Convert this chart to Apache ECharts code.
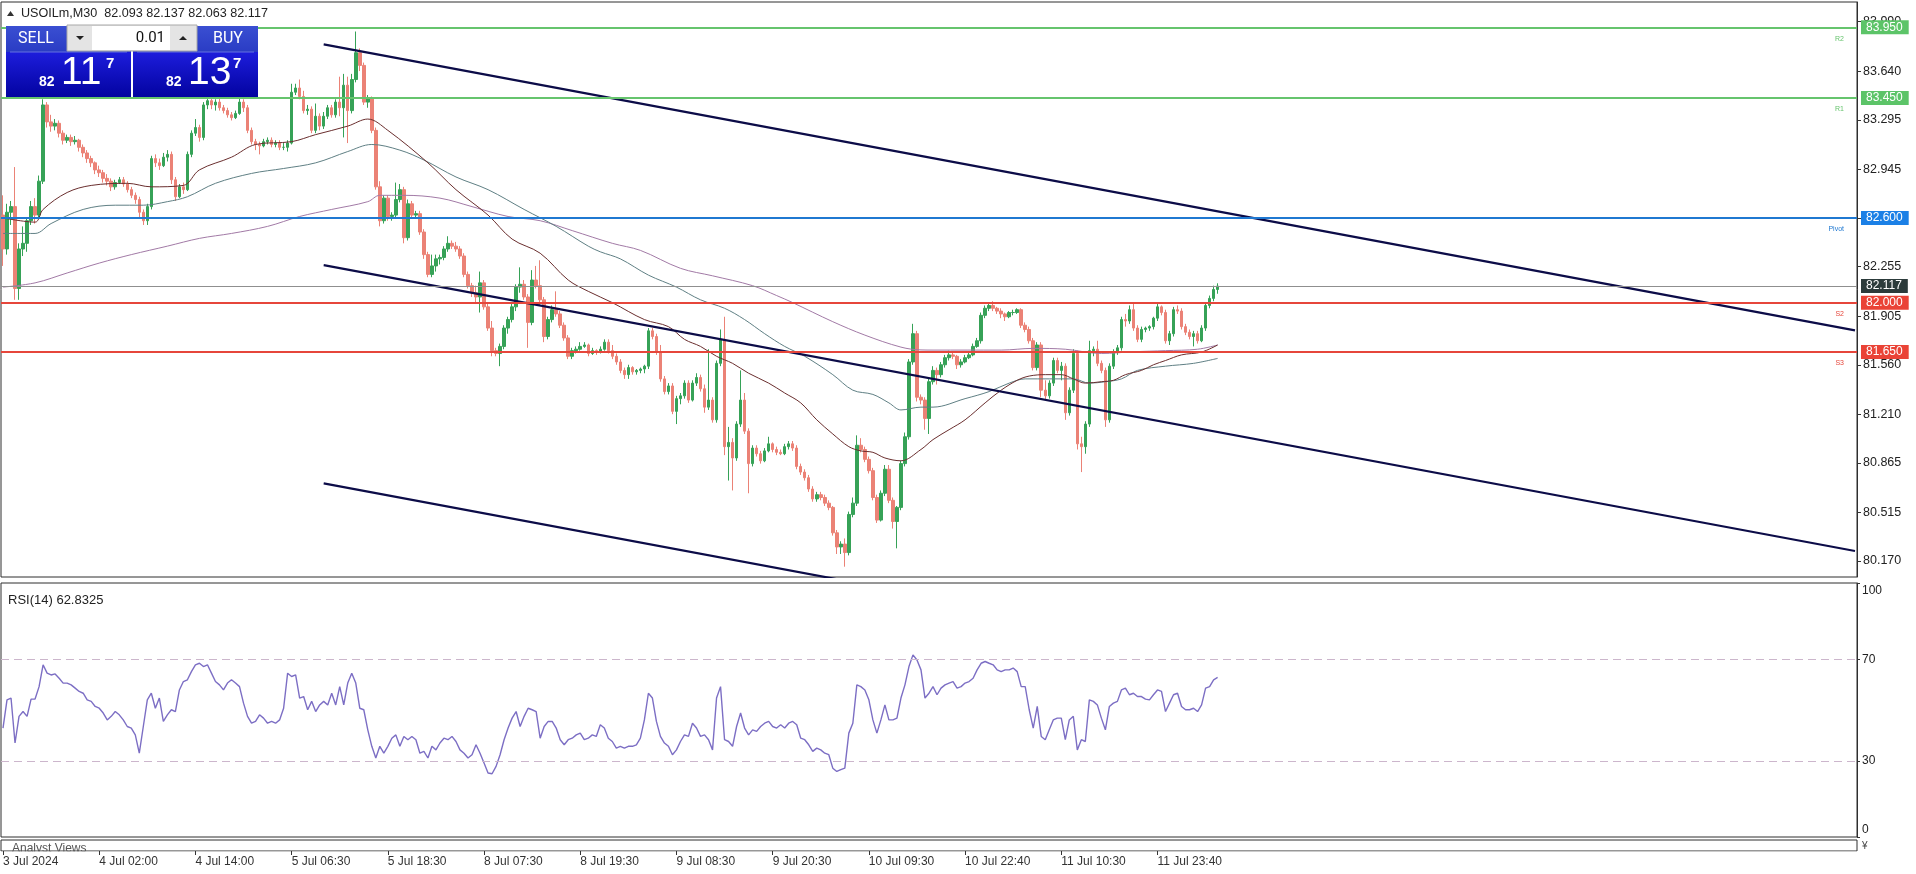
<!DOCTYPE html>
<html><head><meta charset="utf-8">
<script src="https://cdn.jsdelivr.net/npm/echarts@6/dist/echarts.min.js"></script>
<style>html,body{margin:0;padding:0;background:#fff;}#chart{width:1916px;height:874px;}</style>
</head><body><div id="chart"></div>
<script>
// ---------------- DATA ----------------
const symbolName = 'USOILm,M30';
const headerOHLC = ['82.093', '82.137', '82.063', '82.117'];
const sellPrice = ['82', '11', '7'];
const buyPrice = ['82', '13', '7'];
const lotSize = '0.01';
const rsiTitle = 'RSI(14) 62.8325';
const timeLabels = ['3 Jul 2024', '4 Jul 02:00', '4 Jul 14:00', '5 Jul 06:30', '5 Jul 18:30', '8 Jul 07:30', '8 Jul 19:30', '9 Jul 08:30', '9 Jul 20:30', '10 Jul 09:30', '10 Jul 22:40', '11 Jul 10:30', '11 Jul 23:40'];
const barsPerLabel = 24;
const barSlots = 463;
const priceTicks = [80.170, 80.515, 80.865, 81.210, 81.560, 81.905, 82.255, 82.600, 82.945, 83.295, 83.640, 83.990];
const rsiTicks = [0, 30, 70, 100];
const rsiLevels = [70, 30];
const levelValues = [83.950, 83.450, 82.600, 82.117, 82.000, 81.650];
const levelNames = ['R2', 'R1', 'Pivot', '', 'S2', 'S3'];
const channelBars = [80, 462];
const channelUpper = [83.829, 81.804];
const channelMiddle = [82.266, 80.241];
const channelLower = [80.720, 78.695];

// [open, high, low, close]
const ohlc = [
[82.62,82.76,82.26,82.38],[82.38,82.70,82.34,82.64],[82.64,82.72,82.55,82.68],[82.68,82.96,82.02,82.10],[82.10,82.42,82.02,82.38],
[82.38,82.54,82.33,82.42],[82.42,82.60,82.36,82.58],[82.58,82.72,82.55,82.68],[82.68,82.74,82.56,82.62],[82.62,82.90,82.60,82.86],
[82.86,83.44,82.84,83.40],[83.40,83.42,83.24,83.28],[83.28,83.33,83.21,83.25],[83.25,83.30,83.22,83.27],[83.27,83.29,83.17,83.20],
[83.20,83.22,83.12,83.15],[83.15,83.19,83.13,83.17],[83.17,83.19,83.11,83.14],[83.14,83.18,83.12,83.15],[83.15,83.16,83.07,83.10],
[83.10,83.12,83.03,83.06],[83.06,83.08,82.99,83.02],[83.02,83.04,82.96,82.99],[82.99,83.00,82.91,82.94],[82.94,82.97,82.89,82.92],
[82.92,82.94,82.85,82.88],[82.88,82.91,82.83,82.86],[82.86,82.88,82.79,82.82],[82.82,82.87,82.80,82.85],[82.85,82.89,82.84,82.87],
[82.87,82.89,82.82,82.84],[82.84,82.86,82.78,82.80],[82.80,82.82,82.74,82.76],[82.76,82.78,82.70,82.73],[82.73,82.75,82.60,82.64],
[82.64,82.66,82.55,82.58],[82.58,82.70,82.55,82.68],[82.68,83.04,82.66,83.02],[83.02,83.05,82.96,82.99],[82.99,83.02,82.94,82.97],
[82.97,83.06,82.96,83.03],[83.03,83.08,83.00,83.05],[83.05,83.07,82.84,82.87],[82.87,82.89,82.72,82.75],[82.75,82.84,82.74,82.82],
[82.82,82.85,82.77,82.80],[82.80,83.07,82.79,83.05],[83.05,83.22,83.03,83.20],[83.20,83.30,83.18,83.24],[83.24,83.26,83.14,83.17],
[83.17,83.42,83.15,83.40],[83.40,83.50,83.37,83.43],[83.43,83.46,83.37,83.40],[83.40,83.44,83.36,83.42],[83.42,83.45,83.36,83.38],
[83.38,83.40,83.34,83.36],[83.36,83.38,83.31,83.33],[83.33,83.35,83.29,83.31],[83.31,83.36,83.30,83.34],[83.34,83.45,83.33,83.42],
[83.42,83.44,83.35,83.38],[83.38,83.40,83.20,83.22],[83.22,83.24,83.12,83.14],[83.14,83.16,83.08,83.12],[83.12,83.14,83.05,83.11],
[83.11,83.16,83.10,83.14],[83.14,83.17,83.12,83.15],[83.15,83.17,83.10,83.12],[83.12,83.15,83.10,83.13],[83.13,83.15,83.08,83.10],
[83.10,83.13,83.08,83.10],[83.10,83.15,83.07,83.13],[83.13,83.55,83.12,83.49],[83.49,83.55,83.47,83.52],[83.52,83.58,83.44,83.46],
[83.46,83.50,83.34,83.36],[83.36,83.40,83.33,83.37],[83.37,83.39,83.20,83.22],[83.22,83.41,83.20,83.32],[83.32,83.34,83.22,83.25],
[83.25,83.35,83.23,83.32],[83.32,83.40,83.30,83.38],[83.38,83.40,83.31,83.33],[83.33,83.44,83.31,83.42],[83.42,83.60,83.32,83.38],
[83.38,83.62,83.17,83.54],[83.54,83.60,83.13,83.36],[83.36,83.62,83.34,83.58],[83.58,83.92,83.56,83.77],[83.77,83.80,83.64,83.68],
[83.68,83.70,83.40,83.42],[83.42,83.47,83.38,83.45],[83.45,83.46,83.20,83.22],[83.22,83.24,82.80,82.82],[82.82,82.86,82.54,82.58],
[82.58,82.76,82.56,82.74],[82.74,82.76,82.58,82.61],[82.61,82.64,82.58,82.62],[82.62,82.85,82.60,82.73],[82.73,82.84,82.71,82.80],
[82.80,82.82,82.42,82.46],[82.46,82.73,82.44,82.70],[82.70,82.72,82.60,82.62],[82.62,82.65,82.60,82.63],[82.63,82.65,82.48,82.50],
[82.50,82.52,82.31,82.34],[82.34,82.36,82.18,82.20],[82.20,82.34,82.18,82.26],[82.26,82.34,82.22,82.31],[82.31,82.34,82.27,82.32],
[82.32,82.40,82.30,82.38],[82.38,82.47,82.36,82.42],[82.42,82.44,82.38,82.40],[82.40,82.43,82.36,82.38],[82.38,82.40,82.31,82.33],
[82.33,82.35,82.18,82.20],[82.20,82.22,82.10,82.12],[82.12,82.14,82.04,82.07],[82.07,82.12,81.99,82.04],[82.04,82.22,81.93,82.14],
[82.14,82.16,81.95,81.97],[81.97,81.99,81.80,81.82],[81.82,81.87,81.62,81.66],[81.66,81.68,81.62,81.64],[81.64,81.71,81.55,81.69],
[81.69,81.84,81.67,81.82],[81.82,81.90,81.78,81.88],[81.88,81.99,81.86,81.97],[81.97,82.13,81.94,82.11],[82.11,82.25,82.07,82.13],
[82.13,82.16,82.02,82.04],[82.04,82.06,81.68,81.86],[81.86,82.23,81.84,82.16],[82.16,82.26,82.10,82.12],[82.12,82.30,81.98,82.02],
[82.02,82.04,81.72,81.76],[81.76,81.90,81.74,81.88],[81.88,81.98,81.86,81.95],[81.95,82.08,81.90,81.92],[81.92,81.94,81.82,81.84],
[81.84,81.86,81.73,81.75],[81.75,81.77,81.60,81.62],[81.62,81.68,81.60,81.66],[81.66,81.69,81.64,81.67],[81.67,81.72,81.66,81.69],
[81.69,81.72,81.68,81.70],[81.70,81.71,81.62,81.64],[81.64,81.68,81.63,81.66],[81.66,81.67,81.63,81.65],[81.65,81.69,81.64,81.67],
[81.67,81.74,81.66,81.72],[81.72,81.74,81.64,81.66],[81.66,81.70,81.60,81.62],[81.62,81.64,81.56,81.58],[81.58,81.60,81.50,81.52],
[81.52,81.54,81.46,81.49],[81.49,81.56,81.46,81.54],[81.54,81.55,81.49,81.51],[81.51,81.53,81.49,81.52],[81.52,81.54,81.50,81.53],
[81.53,81.56,81.50,81.55],[81.55,81.82,81.53,81.80],[81.80,81.82,81.74,81.76],[81.76,81.78,81.63,81.65],[81.65,81.70,81.44,81.46],
[81.46,81.48,81.35,81.37],[81.37,81.43,81.35,81.41],[81.41,81.43,81.21,81.23],[81.23,81.34,81.14,81.32],[81.32,81.36,81.28,81.34],
[81.34,81.45,81.32,81.43],[81.43,81.45,81.29,81.31],[81.31,81.45,81.30,81.43],[81.43,81.50,81.41,81.47],[81.47,81.49,81.37,81.39],
[81.39,81.42,81.22,81.26],[81.26,81.67,81.24,81.31],[81.31,81.33,81.15,81.17],[81.17,81.59,81.15,81.57],[81.57,81.81,81.55,81.74],
[81.74,81.90,80.92,80.98],[80.98,81.12,80.74,81.01],[81.01,81.04,80.67,80.90],[80.90,81.16,80.88,81.14],[81.14,81.52,81.12,81.31],
[81.31,81.36,81.07,81.09],[81.09,81.11,80.65,80.86],[80.86,80.99,80.84,80.97],[80.97,80.99,80.91,80.93],[80.93,80.95,80.86,80.88],
[80.88,80.97,80.87,80.95],[80.95,81.05,80.94,81.00],[81.00,81.01,80.94,80.96],[80.96,80.98,80.92,80.94],[80.94,80.96,80.92,80.93],
[80.93,81.00,80.92,80.98],[80.98,81.02,80.96,81.00],[81.00,81.02,80.95,80.97],[80.97,80.99,80.82,80.84],[80.84,80.86,80.78,80.80],
[80.80,80.82,80.74,80.76],[80.76,80.78,80.66,80.68],[80.68,80.70,80.59,80.61],[80.61,80.66,80.59,80.64],[80.64,80.66,80.60,80.62],
[80.62,80.64,80.56,80.58],[80.58,80.60,80.53,80.55],[80.55,80.56,80.35,80.37],[80.37,80.39,80.22,80.27],[80.27,80.31,80.22,80.29],
[80.29,80.33,80.13,80.23],[80.23,80.52,80.21,80.50],[80.50,80.62,80.48,80.58],[80.58,81.06,80.56,80.99],[80.99,81.04,80.94,80.96],
[80.96,80.98,80.87,80.89],[80.89,80.91,80.79,80.81],[80.81,80.83,80.60,80.62],[80.62,80.64,80.44,80.46],[80.46,80.67,80.45,80.65],
[80.65,80.85,80.63,80.82],[80.82,80.85,80.58,80.60],[80.60,80.62,80.40,80.45],[80.45,80.56,80.26,80.55],[80.55,80.88,80.53,80.86],
[80.86,81.08,80.84,81.05],[81.05,81.60,81.03,81.58],[81.58,81.85,81.56,81.78],[81.78,81.80,81.30,81.33],[81.33,81.35,81.28,81.31],
[81.31,81.33,81.10,81.18],[81.18,81.46,81.07,81.44],[81.44,81.55,81.42,81.52],[81.52,81.54,81.42,81.49],[81.49,81.58,81.47,81.56],
[81.56,81.63,81.54,81.61],[81.61,81.66,81.59,81.63],[81.63,81.65,81.60,81.62],[81.62,81.63,81.53,81.56],[81.56,81.60,81.54,81.58],
[81.58,81.63,81.57,81.61],[81.61,81.65,81.60,81.63],[81.63,81.71,81.62,81.69],[81.69,81.75,81.68,81.73],[81.73,81.93,81.71,81.91],
[81.91,81.98,81.89,81.96],[81.96,82.00,81.94,81.98],[81.98,82.01,81.94,81.96],[81.96,81.97,81.92,81.94],[81.94,81.96,81.89,81.92],
[81.92,81.93,81.87,81.90],[81.90,81.94,81.89,81.93],[81.93,81.95,81.91,81.93],[81.93,81.96,81.92,81.95],[81.95,81.96,81.82,81.84],
[81.84,81.86,81.79,81.81],[81.81,81.83,81.71,81.73],[81.73,81.75,81.52,81.54],[81.54,81.72,81.52,81.70],[81.70,81.72,81.33,81.38],
[81.38,81.45,81.31,81.34],[81.34,81.45,81.32,81.43],[81.43,81.61,81.41,81.59],[81.59,81.61,81.50,81.52],[81.52,81.58,81.45,81.55],
[81.55,81.57,81.17,81.22],[81.22,81.40,81.20,81.38],[81.38,81.67,81.36,81.64],[81.64,81.66,80.96,81.00],[81.00,81.05,80.80,80.98],
[80.98,81.16,80.93,81.14],[81.14,81.73,81.12,81.66],[81.66,81.69,81.62,81.67],[81.67,81.73,81.55,81.57],[81.57,81.59,81.50,81.52],
[81.52,81.54,81.12,81.17],[81.17,81.57,81.15,81.55],[81.55,81.67,81.53,81.65],[81.65,81.70,81.63,81.68],[81.68,81.90,81.66,81.88],
[81.88,81.92,81.83,81.87],[81.87,81.98,81.85,81.95],[81.95,81.99,81.80,81.82],[81.82,81.84,81.72,81.74],[81.74,81.83,81.72,81.81],
[81.81,81.83,81.79,81.82],[81.82,81.84,81.80,81.83],[81.83,81.90,81.81,81.89],[81.89,81.99,81.87,81.97],[81.97,81.98,81.91,81.93],
[81.93,81.95,81.71,81.73],[81.73,81.80,81.70,81.78],[81.78,81.97,81.76,81.95],[81.95,81.98,81.92,81.94],[81.94,81.96,81.81,81.83],
[81.83,81.85,81.77,81.79],[81.79,81.81,81.74,81.76],[81.76,81.80,81.69,81.78],[81.78,81.80,81.71,81.73],[81.73,81.84,81.72,81.82],
[81.82,82.00,81.80,81.98],[81.98,82.05,81.96,82.03],[82.03,82.12,82.01,82.093],[82.093,82.137,82.063,82.117]
];

const rsiValues = [
42.9,54.0,54.7,37.0,47.5,49.4,47.5,54.3,54.3,59.2,
67.8,64.5,63.8,64.2,62.5,60.6,60.6,59.9,58.6,57.3,
56.6,54.0,53.4,51.4,50.7,48.8,46.1,47.5,49.4,48.1,
46.1,43.5,42.9,40.2,33.0,43.5,54.0,56.6,50.7,54.7,
45.5,48.1,50.1,49.4,57.9,61.2,61.9,65.1,67.8,68.4,
67.1,67.8,64.5,61.2,59.9,57.9,60.6,61.9,60.6,59.2,
52.7,47.5,44.8,45.5,48.1,46.8,44.8,45.5,44.8,46.1,
50.7,64.5,63.2,63.8,54.7,55.3,50.1,53.4,49.4,52.0,
53.4,52.0,56.6,52.0,59.2,52.0,60.6,64.5,60.6,50.7,
50.1,42.2,35.7,31.1,35.7,33.0,35.7,38.9,40.2,35.7,
39.6,38.3,39.6,38.3,33.0,33.7,31.1,35.7,34.3,37.0,
38.9,38.3,39.6,37.6,34.3,33.0,31.1,32.4,36.3,33.0,
29.1,25.2,24.9,27.8,32.4,38.3,42.9,46.8,49.4,43.5,
47.5,50.7,50.1,49.4,38.9,43.5,45.5,45.5,42.9,38.3,
36.3,38.3,38.9,40.2,40.9,38.3,38.9,40.2,39.6,44.2,
42.9,38.9,37.6,35.0,35.7,35.0,35.7,35.7,36.3,38.9,
46.1,56.6,54.7,45.5,39.6,37.0,35.7,32.4,34.3,37.6,
40.2,39.6,44.8,42.9,39.6,40.2,38.3,34.3,54.7,59.2,
38.3,37.6,35.7,43.5,48.8,42.9,40.2,42.2,41.6,43.5,
44.8,45.5,43.5,42.9,44.2,42.9,44.8,45.5,44.2,38.9,
38.3,36.3,33.7,35.0,34.3,33.0,32.4,27.1,25.8,26.5,
27.1,40.9,44.8,59.9,59.2,57.9,54.0,46.1,40.9,46.1,
52.0,46.1,46.1,46.8,54.7,59.9,67.1,71.7,69.7,65.8,
54.7,56.6,59.2,56.0,58.6,59.9,60.6,61.2,58.6,59.2,
60.6,61.2,62.5,65.8,68.4,69.1,68.4,67.8,65.8,65.1,
65.8,65.8,66.5,65.1,59.2,59.2,50.1,42.9,51.4,39.6,
38.3,42.2,46.1,46.8,46.8,38.3,46.1,47.5,34.3,38.3,
37.6,54.0,53.4,52.0,46.8,42.2,51.4,52.7,53.4,57.9,
58.6,56.0,56.6,55.3,55.3,54.3,54.0,56.0,57.9,57.3,
49.4,52.7,56.0,56.6,51.4,50.1,50.1,50.7,49.4,52.0,
58.6,59.2,61.9,62.83
];

// moving averages read at selected bars: [bar, value]
const maFast = [[0,82.60],[8,82.57],[10,82.66],[16,82.78],[22,82.83],[31,82.845],[37,82.82],[45,82.83],[49,82.94],[57,83.03],[63,83.12],[72,83.14],[78,83.19],[86,83.25],[91,83.30],[96,83.22],[106,82.99],[113,82.80],[121,82.62],[127,82.45],[134,82.35],[141,82.16],[146,82.08],[152,82.00],[160,81.88],[166,81.83],[170,81.74],[174,81.69],[178,81.62],[182,81.57],[186,81.50],[191,81.43],[195,81.36],[199,81.29],[203,81.17],[207,81.07],[211,80.98],[214,80.95],[217,80.94],[220,80.90],[224,80.88],[229,80.96],[232,81.03],[236,81.10],[240,81.17],[245,81.29],[249,81.38],[253,81.45],[256,81.48],[260,81.49],[264,81.49],[267,81.46],[270,81.43],[274,81.44],[277,81.45],[280,81.49],[284,81.52],[287,81.56],[290,81.59],[294,81.63],[299,81.65],[303,81.70]];
const maMid = [[0,82.49],[8,82.49],[12,82.56],[20,82.66],[28,82.69],[35,82.69],[41,82.715],[46,82.75],[53,82.845],[62,82.915],[70,82.95],[78,82.99],[86,83.07],[92,83.12],[99,83.08],[105,83.01],[113,82.89],[121,82.80],[130,82.66],[138,82.54],[146,82.40],[149,82.36],[154,82.31],[161,82.195],[168,82.11],[174,82.02],[180,81.96],[185,81.88],[190,81.78],[195,81.69],[200,81.62],[207,81.49],[212,81.38],[217,81.35],[221,81.29],[224,81.24],[229,81.26],[232,81.26],[240,81.32],[246,81.37],[251,81.43],[255,81.46],[261,81.46],[267,81.46],[271,81.43],[275,81.44],[279,81.46],[283,81.52],[290,81.55],[297,81.57],[303,81.605]];
const maSlow = [[0,82.11],[8,82.14],[16,82.21],[24,82.28],[32,82.34],[41,82.40],[49,82.455],[57,82.49],[66,82.54],[74,82.61],[82,82.66],[91,82.715],[94,82.76],[100,82.76],[109,82.74],[117,82.68],[126,82.61],[134,82.58],[142,82.51],[152,82.42],[159,82.37],[169,82.243],[177,82.19],[187,82.12],[193,82.05],[197,82.00],[207,81.865],[215,81.77],[224,81.685],[229,81.665],[232,81.664],[249,81.664],[257,81.676],[265,81.67],[274,81.64],[282,81.652],[290,81.66],[298,81.67],[303,81.70]];

// ---------------- STYLE ----------------
const FONT = '"Liberation Sans", Arial, sans-serif';
const UP = '#36a257', DOWN = '#eb8276';
const levelStyle = [
  {line:'#66c46d', box:'#5cc468', w:2},
  {line:'#66c46d', box:'#5cc468', w:2},
  {line:'#1f78d1', box:'#1b80e6', w:1.8},
  {line:'#8f8f8f', box:'#2c3b3b', w:1},
  {line:'#e6463b', box:'#ea4336', w:2},
  {line:'#e6463b', box:'#ea4336', w:2}
];
const GRID_L = 1, GRID_R = 59;

const cats = Array.from({length: barSlots}, (_, i) => String(i));
const isLabelBar = (i) => i % barsPerLabel === 0 && i / barsPerLabel < timeLabels.length;
const candleData = ohlc.map(r => [r[0], r[3], r[2], r[1]]);
const chan = (arr) => channelBars.map((b, k) => [b, arr[k]]);

const chart = echarts.init(document.getElementById('chart'), null, {renderer: 'canvas'});

const priceMarkLine = {
  symbol: ['none', 'none'], silent: true, animation: false, precision: 3,
  data: levelValues.map((v, i) => ({
    yAxis: v,
    lineStyle: {color: levelStyle[i].line, width: levelStyle[i].w, type: 'solid'},
    label: {show: true, position: 'end', distance: 4, formatter: v.toFixed(3), color: '#fff',
      backgroundColor: levelStyle[i].box, padding: [1, 6, 0, 5], fontSize: 12, lineHeight: 13, fontFamily: FONT}
  }))
};
const nameMarkLine = {
  symbol: ['none', 'none'], silent: true, animation: false,
  data: levelValues.filter((v, i) => levelNames[i] !== '').map((v) => {
    const i = levelValues.indexOf(v);
    return {
      yAxis: v,
      lineStyle: {color: 'rgba(255,255,255,0)', width: 0},
      label: {show: true, position: 'insideEndBottom', distance: [13, 8], formatter: levelNames[i],
        color: levelStyle[i].line, fontSize: 7, fontFamily: FONT, opacity: 1}
    };
  })
};

const gbox = (x, label, big) => [
  {type: 'rect', shape: {x: x, y: 26, width: 125, height: 26}, style: {fill: {type:'linear', x:0, y:0, x2:0, y2:1, colorStops:[{offset:0,color:'#3a4fd2'},{offset:1,color:'#2a3cc4'}]}}, z: 100},
  {type: 'rect', shape: {x: x, y: 52, width: 125, height: 45}, style: {fill: {type:'linear', x:0, y:0, x2:0, y2:1, colorStops:[{offset:0,color:'#1d1ddc'},{offset:1,color:'#0303a0'}]}}, z: 100},
  {type: 'rect', shape: {x: x + 4, y: 51.5, width: 117, height: 1}, style: {fill: '#6573e0'}, z: 101},
  {type: 'text', z: 102, style: {x: label.cx, y: 39, text: label.t, fill: '#fff', font: '16px Roboto, sans-serif', align: 'center', verticalAlign: 'middle'}},
  {type: 'text', z: 102, style: {x: x + 33, y: 82.5, text: big[0], fill: '#fff', font: 'bold 14px ' + FONT, align: 'left', verticalAlign: 'middle'}},
  {type: 'text', z: 102, style: {x: x + 55, y: 73, text: big[1], fill: '#fff', font: '39px ' + FONT, align: 'left', verticalAlign: 'middle'}},
  {type: 'text', z: 102, style: {x: x + 100, y: 64, text: big[2], fill: '#fff', font: 'bold 15px ' + FONT, align: 'left', verticalAlign: 'middle'}}
];

const graphic = [].concat(
  [
    {type: 'polygon', shape: {points: [[7,16],[14,16],[10.5,11]]}, style: {fill: '#333'}, z: 100},
    {type: 'text', z: 100, style: {x: 21, y: 13.5, text: symbolName + '  ' + headerOHLC.join(' '), fill: '#222', font: '12.6px ' + FONT, verticalAlign: 'middle'}},
    {type: 'text', z: 100, style: {x: 8, y: 600, text: rsiTitle, fill: '#222', font: '13px ' + FONT, verticalAlign: 'middle'}},
    {type: 'text', z: 1, style: {x: 12, y: 843, text: 'Analyst Views', fill: '#555', font: '12px ' + FONT, verticalAlign: 'top'}},
    {type: 'rect', z: 2, shape: {x: 0, y: 851.6, width: 1916, height: 4}, style: {fill: '#fff'}},
    {type: 'text', z: 100, style: {x: 1862, y: 846, text: '¥', fill: '#444', font: '10px ' + FONT, verticalAlign: 'middle'}}
  ],
  gbox(6, {t: 'SELL', cx: 36}, sellPrice),
  gbox(133, {t: 'BUY', cx: 228}, buyPrice),
  [
    {type: 'rect', z: 103, shape: {x: 67, y: 25, width: 130, height: 26}, style: {fill: '#e4e4e4', stroke: '#a8a8a8', lineWidth: 1}},
    {type: 'rect', z: 104, shape: {x: 92, y: 26, width: 78, height: 24}, style: {fill: '#fff'}},
    {type: 'polygon', z: 105, shape: {points: [[76,36],[84,36],[80,40]]}, style: {fill: '#222'}},
    {type: 'polygon', z: 105, shape: {points: [[179,40],[187,40],[183,36]]}, style: {fill: '#222'}},
    {type: 'text', z: 105, style: {x: 165, y: 38.5, text: lotSize, fill: '#111', font: '15px Roboto, sans-serif', align: 'right', verticalAlign: 'middle'}}
  ]
);

const option = {
  animation: false,
  backgroundColor: '#ffffff',
  textStyle: {fontFamily: FONT},
  graphic: graphic,
  grid: [
    {left: GRID_L, right: GRID_R, top: 2, height: 575, show: true, borderColor: '#2f2f2f', borderWidth: 1, backgroundColor: 'transparent'},
    {left: GRID_L, right: GRID_R, top: 583, height: 254, show: true, borderColor: '#2f2f2f', borderWidth: 1},
    {left: GRID_L, right: GRID_R, top: 840, height: 11, show: true, borderColor: '#2f2f2f', borderWidth: 1}
  ],
  xAxis: [
    {type: 'category', gridIndex: 0, data: cats, boundaryGap: true, axisLine: {show: false}, axisTick: {show: false}, axisLabel: {show: false}, splitLine: {show: false}},
    {type: 'category', gridIndex: 1, data: cats, boundaryGap: true, axisLine: {show: false}, axisTick: {show: false}, axisLabel: {show: false}, splitLine: {show: false}},
    {type: 'category', gridIndex: 2, data: cats, boundaryGap: true, z: 5,
      axisLine: {show: false},
      axisTick: {show: true, alignWithLabel: true, length: 4, interval: (i) => isLabelBar(i), lineStyle: {color: '#333'}},
      axisLabel: {show: true, interval: (i) => isLabelBar(i), formatter: (v, i) => timeLabels[Math.round(Number(v) / barsPerLabel)],
        align: 'left', color: '#333', fontSize: 12, fontFamily: FONT, margin: 5},
      splitLine: {show: false}}
  ],
  yAxis: [
    {type: 'value', gridIndex: 0, position: 'right', min: 80.057, max: 84.129,
      axisLine: {show: true, lineStyle: {color: '#2f2f2f'}},
      axisTick: {show: true, length: 4, customValues: priceTicks, lineStyle: {color: '#333'}},
      axisLabel: {show: true, customValues: priceTicks, formatter: (v) => v.toFixed(3), color: '#222', fontSize: 12.5, fontFamily: FONT, margin: 6},
      splitLine: {show: false}},
    {type: 'value', gridIndex: 1, position: 'right', min: 0, max: 100,
      axisLine: {show: true, lineStyle: {color: '#2f2f2f'}},
      axisTick: {show: true, length: 3, customValues: rsiTicks, lineStyle: {color: '#333'}},
      axisLabel: {show: true, customValues: [3, 30, 70, 97], formatter: (v) => (v < 10 ? '0' : v > 90 ? '100' : String(v)), color: '#222', fontSize: 12, fontFamily: FONT, margin: 5},
      splitLine: {show: false}},
    {type: 'value', gridIndex: 2, min: 0, max: 1, show: false}
  ],
  series: [
    {name: 'price', type: 'candlestick', xAxisIndex: 0, yAxisIndex: 0, data: candleData, barWidth: 3, z: 2,
      itemStyle: {color: UP, color0: DOWN, borderColor: UP, borderColor0: DOWN, borderWidth: 1},
      markLine: priceMarkLine},
    {name: 'maSlow', type: 'line', xAxisIndex: 0, yAxisIndex: 0, data: maSlow, symbol: 'none', smooth: 0.35, z: 3,
      lineStyle: {color: '#a27aa6', width: 1}, markLine: nameMarkLine},
    {name: 'maMid', type: 'line', xAxisIndex: 0, yAxisIndex: 0, data: maMid, symbol: 'none', smooth: 0.35, z: 3,
      lineStyle: {color: '#5f7f84', width: 1}},
    {name: 'maFast', type: 'line', xAxisIndex: 0, yAxisIndex: 0, data: maFast, symbol: 'none', smooth: 0.35, z: 3,
      lineStyle: {color: '#6a2e2e', width: 1}},
    {name: 'chUpper', type: 'line', xAxisIndex: 0, yAxisIndex: 0, data: chan(channelUpper), symbol: 'none', z: 4, clip: true,
      lineStyle: {color: '#0c0c48', width: 2.2}},
    {name: 'chMiddle', type: 'line', xAxisIndex: 0, yAxisIndex: 0, data: chan(channelMiddle), symbol: 'none', z: 4, clip: true,
      lineStyle: {color: '#0c0c48', width: 2.2}},
    {name: 'chLower', type: 'line', xAxisIndex: 0, yAxisIndex: 0, data: chan(channelLower), symbol: 'none', z: 4, clip: true,
      lineStyle: {color: '#0c0c48', width: 2.2}},
    {name: 'rsi', type: 'line', xAxisIndex: 1, yAxisIndex: 1, data: rsiValues, symbol: 'none', z: 3,
      lineStyle: {color: '#7c6ec4', width: 1.4},
      markLine: {symbol: ['none', 'none'], silent: true, animation: false, label: {show: false},
        data: rsiLevels.map(v => ({yAxis: v})), lineStyle: {color: '#ccb6cc', width: 1, type: [8, 5]}}}
  ]
};
chart.setOption(option);
</script>
</body></html>
